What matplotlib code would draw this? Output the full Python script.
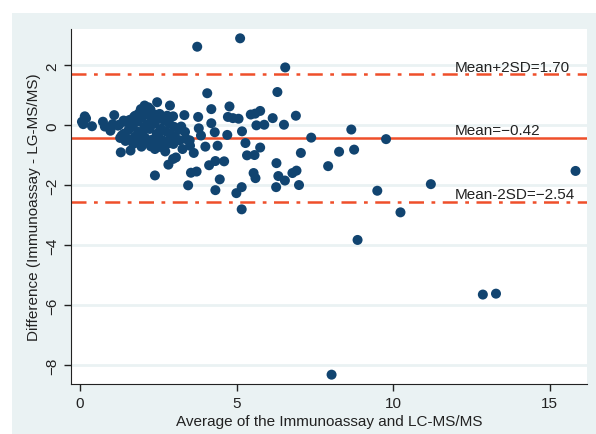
import matplotlib.pyplot as plt
import matplotlib
from matplotlib.patches import Rectangle

matplotlib.rcParams['font.family'] = ['Liberation Sans', 'DejaVu Sans']

# 稀疏点（平均值, 差值）
avg_sparse = [3.74, 5.11, 6.55, 4.06, 6.30, 4.77, 4.19, 3.33, 3.77, 4.72, 4.88, 5.06, 5.45, 5.59,
              5.75, 6.15, 6.89, 4.19, 5.63, 5.88, 6.51, 3.79, 3.86, 4.70, 5.17, 4.30, 7.38, 8.66,
              9.77, 5.28, 5.75, 4.39, 4.00, 8.27, 8.75, 7.05, 5.33, 5.57, 3.06, 2.97, 4.12, 4.32,
              4.60, 2.82, 6.27, 7.92, 2.39, 3.54, 3.72, 5.54, 5.60, 6.33, 6.78, 6.91, 6.54, 4.46,
              3.45, 6.99, 6.26, 5.16, 4.32, 4.99, 5.16, 9.49, 11.2, 15.82, 10.23, 8.86, 12.86,
              13.28, 8.03]
diff_sparse = [2.62, 2.90, 1.93, 1.07, 1.11, 0.63, 0.54, 0.34, 0.28, 0.28, 0.24, 0.22, 0.36, 0.39,
               0.48, 0.24, 0.32, 0.07, 0.00, 0.02, 0.02, -0.10, -0.34, -0.32, -0.20, -0.23, -0.41,
               -0.14, -0.46, -0.59, -0.74, -0.68, -0.71, -0.88, -0.81, -0.92, -1.00, -0.99, -1.07,
               -1.12, -1.33, -1.19, -1.20, -1.31, -1.26, -1.36, -1.67, -1.58, -1.54, -1.59, -1.76,
               -1.69, -1.59, -1.51, -1.84, -1.80, -2.00, -1.99, -2.06, -2.06, -2.16, -2.26, -2.80,
               -2.18, -1.96, -1.52, -2.90, -3.82, -5.64, -5.61, -8.31]

# 密集区（低浓度）
avg_dense = [0.06, 0.15, 0.19, 0.10, 0.38, 0.73, 0.79, 0.97, 1.09, 1.04, 1.21, 1.30, 1.61, 1.33,
             1.39, 1.57, 1.76, 1.94, 2.06, 2.18, 2.46, 2.87, 2.54, 2.97, 2.78, 1.96, 2.39, 2.72,
             3.23, 3.39, 3.51, 3.63, 3.27,
             1.25, 1.28, 1.42, 1.40, 1.45, 1.58, 1.55, 1.52,
             1.72, 1.68, 1.75, 1.70, 1.88, 1.83, 1.86, 1.90,
             2.02, 1.98, 2.05, 2.00, 2.03, 2.12, 2.15, 2.08,
             2.25, 2.28, 2.22, 2.30, 2.26, 2.42, 2.38, 2.45, 2.40,
             2.55, 2.58, 2.52, 2.56, 2.70, 2.73, 2.68, 2.72,
             2.85, 2.88, 2.83, 3.00, 3.03, 2.98, 3.15, 3.18,
             3.35, 3.50]
diff_dense = [0.12, 0.30, 0.23, 0.04, -0.03, 0.12, -0.04, -0.18, 0.34, 0.04, -0.01, -0.90, -0.84,
              -0.34, 0.16, 0.10, 0.32, 0.54, 0.66, 0.60, 0.77, 0.66, 0.38, 0.30, 0.32, -0.71,
              -0.79, -0.87, -0.04, -0.46, -0.68, -0.92, -0.79,
              0.02, -0.42, 0.12, -0.28, -0.52, 0.18, -0.15, -0.45,
              0.28, -0.05, -0.38, -0.62, 0.40, 0.12, -0.22, -0.52,
              0.48, 0.25, -0.05, -0.32, -0.58, 0.38, 0.02, -0.42,
              0.52, 0.18, -0.12, -0.48, -0.70, 0.35, 0.05, -0.28, -0.58,
              0.22, -0.12, -0.42, -0.72, 0.15, -0.20, -0.52, -0.65,
              0.05, -0.30, -0.60, -0.05, -0.38, -0.62, -0.15, -0.50,
              -0.22, -0.50]

mean_diff = -0.42
upper = 1.70
lower = -2.54

fig = plt.figure(figsize=(5.96, 4.35), dpi=100)
fig.patches.append(Rectangle((12 / 596, 0), 1, 1 - 14 / 435, transform=fig.transFigure,
                             facecolor='#eaf2f3', edgecolor='none', zorder=-10))
ax = fig.add_axes([0.1186, 0.115, 0.866, 0.816])
ax.set_facecolor('white')

for yv in [-8, -6, -4, -2, 0, 2]:
    ax.axhline(yv, color='#eaf2f3', lw=2, zorder=0)

ax.axhline(mean_diff, color='#ef4f2a', lw=1.8, zorder=1)
ax.axhline(upper, color='#ef4f2a', lw=1.8, ls=(0, (6, 3, 1.5, 3)), zorder=1)
ax.axhline(lower, color='#ef4f2a', lw=1.8, ls=(0, (6, 3, 1.5, 3)), zorder=1)

ax.scatter(avg_dense + avg_sparse, diff_dense + diff_sparse, s=52, color='#114470',
           edgecolors='none', zorder=3)

ax.text(11.97, upper + 0.12, 'Mean+2SD=1.70', fontsize=11, color='#222222')
ax.text(11.97, mean_diff + 0.12, 'Mean=\u22120.42', fontsize=11, color='#222222')
ax.text(11.97, lower + 0.12, 'Mean-2SD=\u22122.54', fontsize=11, color='#222222')

ax.set_xlim(-0.3, 16.18)
ax.set_ylim(-8.62, 3.21)
ax.set_xticks([0, 5, 10, 15])
ax.set_yticks([-8, -6, -4, -2, 0, 2])
ax.tick_params(axis='both', labelsize=11, colors='#222222', length=5, width=1)
for lab in ax.get_yticklabels():
    lab.set_rotation(90)
    lab.set_va('center')
ax.spines['top'].set_visible(False)
ax.spines['right'].set_visible(False)
ax.spines['left'].set_color('#222222')
ax.spines['bottom'].set_color('#222222')
ax.set_xlabel('Average of the Immunoassay and LC-MS/MS', fontsize=11, color='#222222', labelpad=3)
ax.set_ylabel('Difference (Immunoassay - LG-MS/MS)', fontsize=11, color='#222222', labelpad=3)

plt.savefig('out.png', dpi=100)
